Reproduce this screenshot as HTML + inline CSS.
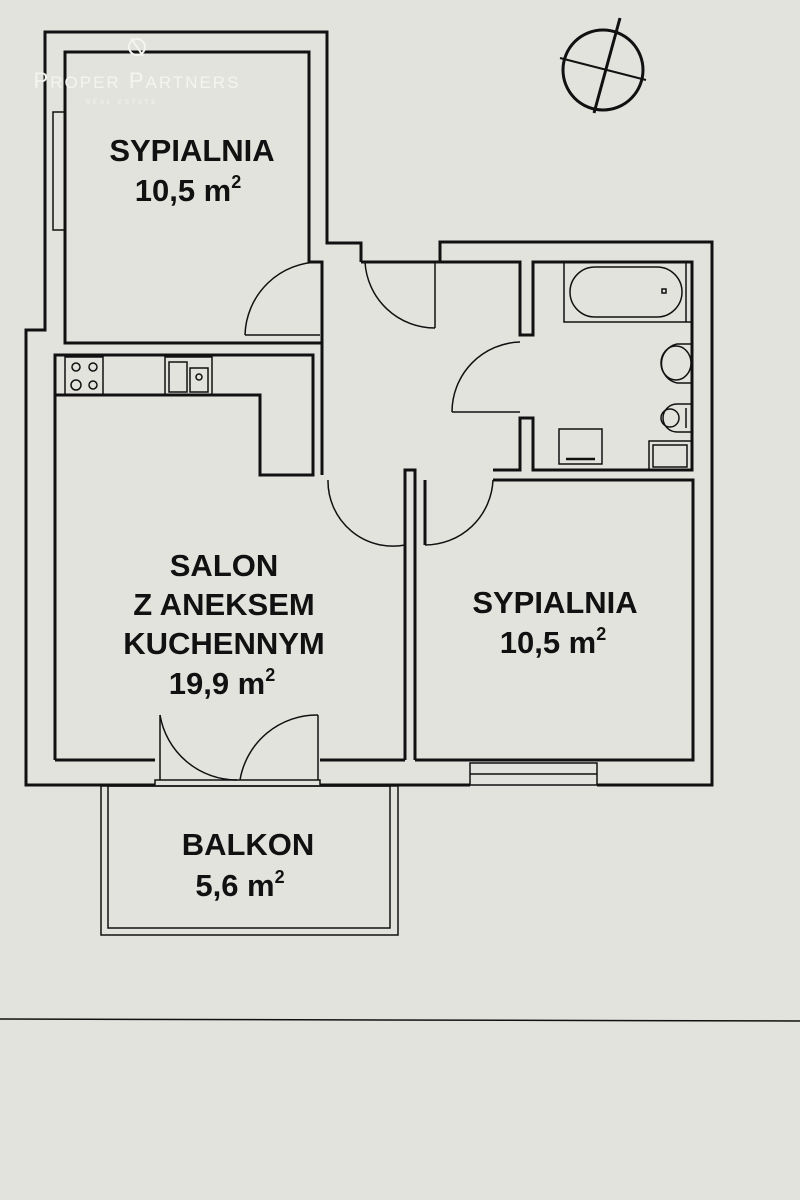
<!DOCTYPE html>
<html><head><meta charset="utf-8"><style>
html,body{margin:0;padding:0;background:#e3e3de;}
svg{display:block}
text{font-family:"Liberation Sans",sans-serif;font-weight:bold;fill:#111;text-anchor:middle}
</style></head><body>
<svg width="800" height="1200" viewBox="0 0 800 1200">
<rect width="800" height="1200" fill="#e3e3de"/>
<g fill="none" stroke="#111" stroke-width="3">
<path d="M361,262 V243 H327 V32 H45 V330 H26 V785 H155"/>
<path d="M65,343 V52 H309 V262 H322 V343 Z"/>
<path d="M55,760 V355 H313 V475 H260 V395 H55"/>
<path d="M155,760 H55"/>
<path d="M322,343 V475"/>
<path d="M405,760 V470 H415 V480 M415,760 V480"/>
<path d="M320,760 H405 M415,760 H693 V480 H493"/>
<path d="M425,480 V545"/>
<path d="M440,262 V242 H712 V785 H597"/>
<path d="M361,262 H440 M440,262 H520 V335 H533 V262 H692 V470 H533 V418 H520 V470 H493"/>
<path d="M470,785 H320"/>
<path d="M155,785 V780 H320 V785" stroke-width="1.5"/>
<rect x="101" y="786" width="297" height="149" stroke-width="1.5"/>
<rect x="108" y="786" width="282" height="142" stroke-width="1.5"/>
</g>
<g fill="none" stroke="#111" stroke-width="1.5">
<rect x="53" y="112" width="12" height="118"/>
<rect x="470" y="763" width="127" height="22"/><line x1="470" y1="774" x2="597" y2="774"/>
<path d="M245,335 A75,75 0 0 1 320,262"/><line x1="245" y1="335" x2="320" y2="335"/>
<path d="M365,262 A70,70 0 0 0 435,328"/><line x1="435" y1="262" x2="435" y2="328"/>
<path d="M452,412 A70,70 0 0 1 520,342"/><line x1="452" y1="412" x2="520" y2="412"/>
<path d="M328,480 A65,65 0 0 0 405,545"/>
<path d="M493,480 A68,68 0 0 1 425,545"/>
<path d="M160,715 A78,78 0 0 0 237,780"/><line x1="160" y1="715" x2="160" y2="780"/>
<path d="M318,715 A78,78 0 0 0 240,780"/><line x1="318" y1="715" x2="318" y2="780"/>
<rect x="65" y="357" width="38" height="38"/>
<circle cx="76" cy="367" r="4"/><circle cx="93" cy="367" r="4"/><circle cx="76" cy="385" r="5"/><circle cx="93" cy="385" r="4"/>
<rect x="165" y="357" width="47" height="38"/>
<rect x="169" y="362" width="18" height="30"/><rect x="190" y="368" width="18" height="24"/><circle cx="199" cy="377" r="3"/>
<rect x="564" y="262" width="128" height="60"/>
<rect x="570" y="267" width="112" height="50" rx="25"/>
<rect x="662" y="289" width="4" height="4"/>
<line x1="686" y1="262" x2="686" y2="322"/>
<path d="M692,344 H677 A20,20 0 0 0 677,383 H692"/><ellipse cx="676" cy="363" rx="15" ry="17"/>
<path d="M692,404 H677 A14,14 0 0 0 677,432 H692"/><circle cx="670" cy="418" r="9"/><line x1="686" y1="408" x2="686" y2="428"/>
<rect x="649" y="441" width="43" height="29"/><rect x="653" y="445" width="34" height="22"/>
<rect x="559" y="429" width="43" height="35"/><line x1="566" y1="459" x2="595" y2="459" stroke-width="2.5"/>
</g>
<g stroke="#111" fill="none" stroke-width="3">
<circle cx="603" cy="70" r="40"/>
<line x1="620" y1="18" x2="594" y2="113"/>
<line x1="560" y1="58" x2="646" y2="80" stroke-width="2"/>
</g>
<g fill="none" stroke="#f4f4f0" stroke-width="2">
<circle cx="137" cy="47" r="8"/><path d="M131,38 L143,56"/>
</g>
<text x="137" y="88" style="font-weight:normal;font-size:22px;fill:#f4f4f0;letter-spacing:2px">P<tspan font-size="17">ROPER</tspan> P<tspan font-size="17">ARTNERS</tspan></text>
<text x="122" y="104" style="font-weight:normal;font-size:6px;fill:#f4f4f0;letter-spacing:3px">REAL ESTATE</text>
<g font-size="31">
<text x="192" y="161">SYPIALNIA</text>
<text x="188" y="201">10,5 m<tspan font-size="18" dy="-13">2</tspan></text>
<text x="224" y="576">SALON</text>
<text x="224" y="615">Z ANEKSEM</text>
<text x="224" y="654">KUCHENNYM</text>
<text x="222" y="694">19,9 m<tspan font-size="18" dy="-13">2</tspan></text>
<text x="555" y="613">SYPIALNIA</text>
<text x="553" y="653">10,5 m<tspan font-size="18" dy="-13">2</tspan></text>
<text x="248" y="855">BALKON</text>
<text x="240" y="896">5,6 m<tspan font-size="18" dy="-13">2</tspan></text>
</g>
<line x1="0" y1="1019" x2="800" y2="1021" stroke="#111" stroke-width="1.5"/>
</svg>
</body></html>
